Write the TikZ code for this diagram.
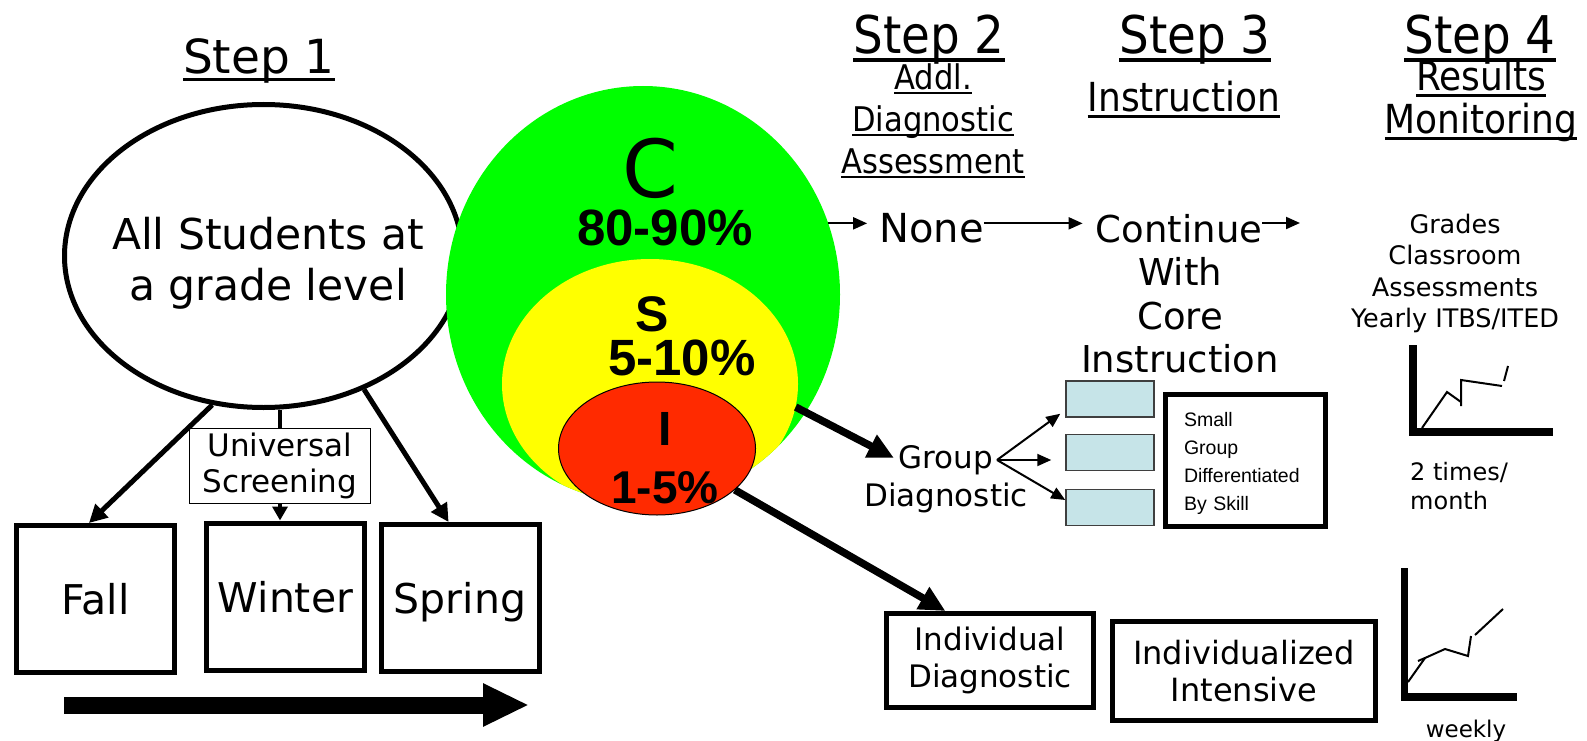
\documentclass[tikz,border=0pt]{standalone}
\usepackage{fontspec}
\setmainfont{DejaVu Sans}
\newfontfamily\narrowfont[FakeStretch=0.9]{DejaVu Sans}
\newfontfamily\arialfont{Liberation Sans}
\usepackage{xcolor}
\definecolor{tiergreen}{HTML}{00FF00}
\definecolor{tieryellow}{HTML}{FFFF00}
\definecolor{tierred}{HTML}{FF2A00}
\definecolor{skillblue}{HTML}{C6E4E8}
\definecolor{skilledge}{HTML}{3F3F3F}
\usepackage{tikz}
\usetikzlibrary{arrows.meta}
\usetikzlibrary{shapes.geometric}
\usetikzlibrary{calc}
\newcommand{\setfs}[2]{\fontsize{#1}{#2}\selectfont}
\newcommand{\uln}[1]{\setbox0\hbox{#1}\leavevmode\rlap{\rule[-0.15em]{\wd0}{0.07em}}\box0}

\begin{document}
\begin{tikzpicture}[x=1pt, y=-1pt]
				\tikzstyle{seasonbox}=[draw, line width=5pt, minimum width=158pt, minimum height=147pt, inner sep=0pt, text height=31pt, text depth=0pt, font=\setfs{41}{49}]
				\tikzstyle{planbox}=[draw, line width=5pt, inner sep=0pt, align=center, font=\setfs{31}{37}]
				\tikzstyle{skillbox}=[draw=skilledge, fill=skillblue, line width=1.5pt, minimum width=88pt, minimum height=36pt, inner sep=0pt]
				\tikzstyle{steptitle}=[anchor=base, inner sep=0pt, font=\narrowfont\setfs{52}{60}]
				\tikzstyle{steplabel}=[anchor=north, inner sep=0pt, align=center]
				\tikzstyle{tiernum}=[anchor=base, inner sep=0pt, font=\arialfont\bfseries\setfs{51}{60}]
				\tikzstyle{thinarrow}=[line width=2pt, -{Triangle[length=14pt, width=12pt]}]
				\tikzstyle{boxarrow}=[line width=5pt, -{Triangle[length=18pt, width=18pt]}]
				\tikzstyle{bigarrow}=[line width=7.5pt, -{Triangle[length=26pt, width=24pt]}]
				\tikzstyle{chartaxis}=[line width=8pt, line join=miter]
				\tikzstyle{trend}=[line width=2pt]
				\useasboundingbox (0,0) rectangle (1587,741);
				%%% STEP 1 %%%
				\node[anchor=base, inner sep=0pt, font=\setfs{47}{56}] (step1) at (259,74) {\uln{Step 1}};
				%all students oval
				\node[draw, ellipse, line width=5pt, minimum width=398pt, minimum height=303pt, inner sep=0pt] (allst) at (263.5,256) {};
				\node[steplabel, font=\setfs{42.5}{51}] (allsttxt) at (268,216.7) {All Students at\\a grade level};
				%screening box
				\node[draw, line width=1.2pt, minimum width=181pt, minimum height=75pt, inner sep=0pt, align=center, font=\setfs{31}{36}] (univ) at (280,466) {Universal\\Screening};
				%season boxes
				\node[seasonbox] (fall) at (95.5,599) {Fall};
				\node[seasonbox] (winter) at (285.5,596.5) {Winter};
				\node[seasonbox] (spring) at (460,598) {Spring};
				%arrows to the seasons
				\draw[boxarrow] (allst.-109) -- ($(fall.north west)!0.46!(fall.north east)$);
				\draw[boxarrow] (allst.-53) -- ($(spring.north west)!0.43!(spring.north east)$);
				\draw[line width=4pt] (allst.south -| univ.north) -- (univ.north);
				\draw[line width=4pt, -{Triangle[length=14pt, width=15pt]}] (univ.south) -- (univ.south |- winter.north);
				%time arrow
				\coordinate (yrstart) at (64,705);
				\coordinate (yrend) at (529,705);
				\draw[line width=17pt, -{Triangle[length=46pt, width=40pt]}] (yrstart) -- (yrend);
				%%% TIER CIRCLES %%%
				%core circle
				\node[ellipse, fill=tiergreen, minimum width=394pt, minimum height=417pt, inner sep=0pt] (tierC) at (643,294.5) {};
				%strategic circle
				\begin{scope}
				\clip (643,294.5) ellipse (197pt and 208.5pt);
				\node[ellipse, fill=tieryellow, minimum width=296pt, minimum height=250pt, inner sep=0pt] (tierS) at (650,384) {};
				\end{scope}
				%intensive circle
				\node[ellipse, draw, fill=tierred, line width=1pt, minimum width=197pt, minimum height=133pt, inner sep=0pt] (tierI) at (657,448.5) {};
				%tier labels
				\node[anchor=base, inner sep=0pt, font=\setfs{80}{90}] (clab) at (650,197) {C};
				\node[tiernum] (cnum) at (665,245) {80-90\%};
				\node[tiernum, font=\arialfont\bfseries\setfs{50}{60}] (slab) at (652,331) {S};
				\node[tiernum] (snum) at (682,375) {5-10\%};
				\node[tiernum, font=\arialfont\bfseries\setfs{48}{60}] (ilab) at (665,445) {I};
				\node[tiernum, font=\arialfont\bfseries\setfs{46}{60}] (inum) at (665,503) {1-5\%};
				%%% STEP 2 %%%
				\node[steptitle] (step2) at (929,54) {\uln{Step 2}};
				\node[steplabel, font=\narrowfont\setfs{34}{42}] (step2sub) at (933,63) {\uln{Addl.}\\\uln{Diagnostic}\\\uln{Assessment}};
				\node[anchor=base, inner sep=0pt, font=\setfs{40}{48}] (none) at (931.5,242) {None};
				\node[steplabel, font=\setfs{31}{38}] (group) at (946,445) {Group\\Diagnostic};
				\node[planbox, minimum width=207pt, minimum height=94pt] (indiv) at (990,660.5) {Individual\\Diagnostic};
				%%% STEP 3 %%%
				\node[steptitle] (step3) at (1195,54) {\uln{Step 3}};
				\node[anchor=base, inner sep=0pt, font=\narrowfont\setfs{40}{48}] (step3sub) at (1184,112) {\uln{Instruction}};
				\node[anchor=base, inner sep=0pt, font=\setfs{37}{43.5}] (cont) at (1179,242) {Continue};
				\node[steplabel, font=\setfs{37}{43.5}] (core) at (1180,257.4) {With\\Core\\Instruction};
				%skill groups
				\node[skillbox] (skill1) at (1110,399) {};
				\node[skillbox] (skill2) at (1110,452.5) {};
				\node[skillbox] (skill3) at (1110,507.5) {};
				\node[draw, line width=5pt, minimum width=160pt, minimum height=132pt, inner xsep=18.5pt, inner ysep=0pt, text width=123pt, align=left, font=\arialfont\setfs{19.5}{28}] (smallgrp) at (1245.5,460.5) {\rule{0pt}{20pt}Small\\Group\\Differentiated\\By Skill};
				\node[planbox, font=\setfs{32}{37}, minimum width=263pt, minimum height=99pt] (intens) at (1244,671) {Individualized\\Intensive};
				%%% STEP 4 %%%
				\node[steptitle] (step4) at (1480,54) {\uln{Step 4}};
				\node[steplabel, font=\narrowfont\setfs{40}{43}] (step4sub) at (1481,60) {\uln{Results}\\\uln{Monitoring}};
				\node[steplabel, font=\setfs{25.5}{31.5}] (grades) at (1455,213.5) {Grades\\Classroom\\Assessments\\Yearly ITBS/ITED};
				\node[anchor=north west, inner sep=0pt, align=left, font=\setfs{24}{29}] (twice) at (1410,462.4) {2 times/\\month};
				\node[anchor=base, inner sep=0pt, font=\setfs{23}{28}] (weekly) at (1466,737) {weekly};
				%monthly chart
				\draw[chartaxis] (1413,345) -- (1413,432) -- (1553,432);
				\draw[trend] (1422,428) -- (1447,392) -- (1461,402);
				\draw[trend] (1461,406) -- (1461,380) -- (1502,386);
				\draw[trend] (1504,381) -- (1508,366);
				%weekly chart
				\draw[chartaxis, line width=7.5pt] (1404.5,568) -- (1404.5,697) -- (1517,697);
				\draw[trend] (1408,682) -- (1425,658) -- (1445,649) -- (1468,656) -- (1471,636);
				\draw[trend] (1418,661) -- (1425,658);
				\draw[trend] (1475,635) -- (1503,609);
				%%% FLOW ARROWS %%%
				\coordinate (resultsin) at (1300,223);
				\draw[thinarrow, shorten >=12pt] (tierC.21) -- (tierC.21 -| none.west);
				\draw[thinarrow, shorten >=13pt] (none.east |- tierC.21) -- (cont.west |- tierC.21);
				\draw[thinarrow] (cont.east |- resultsin) -- (resultsin);
				%arrows out of the tiers
				\coordinate (grpin) at (894,458);
				\draw[bigarrow] (tierS.-9) -- (grpin);
				\draw[bigarrow] (tierI.-28) -- (indiv.132);
				%arrows to the skill groups
				\coordinate (grpout) at (997,460);
				\draw[thinarrow] (grpout) -- ([xshift=-5pt, yshift=4pt]skill1.south west);
				\draw[thinarrow, shorten >=14pt] (grpout) -- (grpout -| skill2.west);
				\draw[thinarrow] (grpout) -- ($(skill3.north west)!0.3!(skill3.south west)$);
\end{tikzpicture}
\end{document}
